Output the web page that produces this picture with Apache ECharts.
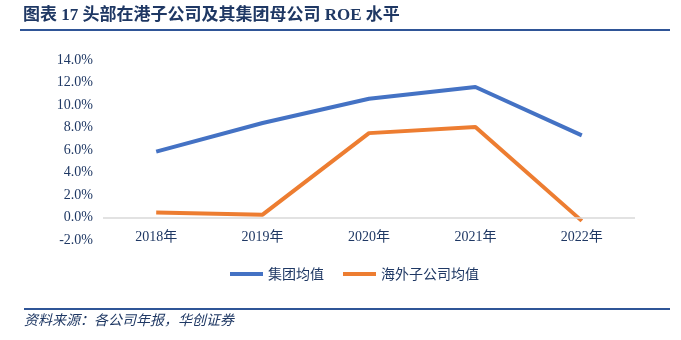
<!DOCTYPE html>
<html><head><meta charset="utf-8">
<script src="https://cdn.jsdelivr.net/npm/echarts@6/dist/echarts.min.js"></script>
<style>html,body{margin:0;padding:0;background:#fff}#c{width:681px;height:340px}</style>
</head><body><div id="c"></div>
<script>
const categories = ['2018年','2019年','2020年','2021年','2022年'];
const groupAvg = [5.85, 8.4, 10.55, 11.6, 7.3];
const overseasAvg = [0.45, 0.25, 7.5, 8.05, -0.3];
const seriesNames = ['集团均值','海外子公司均值'];
const titleText = '图表 17 头部在港子公司及其集团母公司 ROE 水平';
const sourceText = '资料来源：各公司年报，华创证券';
const navy = '#1F3864';
const chart = echarts.init(document.getElementById('c'));
chart.setOption({
  animation:false,
  backgroundColor:'#fff',
  graphic:[
    {type:'text',left:23,top:7,style:{text:titleText,font:'bold 17px "Liberation Serif","Noto Sans CJK SC"',fill:navy}},
    {type:'rect',shape:{x:20,y:29,width:650,height:2},style:{fill:'#2F5597'}},
    {type:'rect',shape:{x:24,y:308,width:646,height:2},style:{fill:'#2F5597'}},
    {type:'text',left:24,top:314,style:{text:sourceText,font:'italic 14px "Liberation Serif","Noto Sans CJK SC"',fill:navy}}
  ],
  legend:{top:262,left:225,itemWidth:33,itemHeight:4,itemGap:19,
    icon:'rect',
    textStyle:{color:navy,fontSize:14,fontFamily:'"Noto Sans CJK SC"'},
    data:seriesNames},
  grid:{left:103,right:46,top:60,bottom:100},
  xAxis:{type:'category',data:categories,boundaryGap:true,
    axisLine:{show:false,onZero:false},axisTick:{show:false},
    axisLabel:{margin:-10,color:navy,fontSize:14,fontFamily:'"Liberation Serif","Noto Sans CJK SC"'}},
  yAxis:{type:'value',min:-2,max:14,interval:2,
    axisLine:{show:false},axisTick:{show:false},splitLine:{show:false},
    axisLabel:{margin:10,color:navy,fontSize:14,fontFamily:'"Liberation Serif"',formatter:v=>v.toFixed(1)+'%'}},
  series:[
    {name:seriesNames[0],type:'line',data:groupAvg,symbol:'none',lineStyle:{width:4,color:'#4472C4'},itemStyle:{color:'#4472C4'},
     markLine:{silent:true,symbol:'none',label:{show:false},lineStyle:{color:'#D9D9D9',width:1.5,type:'solid'},data:[{yAxis:0}]},z:3},
    {name:seriesNames[1],type:'line',data:overseasAvg,symbol:'none',lineStyle:{width:4,color:'#ED7D31'},itemStyle:{color:'#ED7D31'},z:3}
  ]
});
</script></body></html>
